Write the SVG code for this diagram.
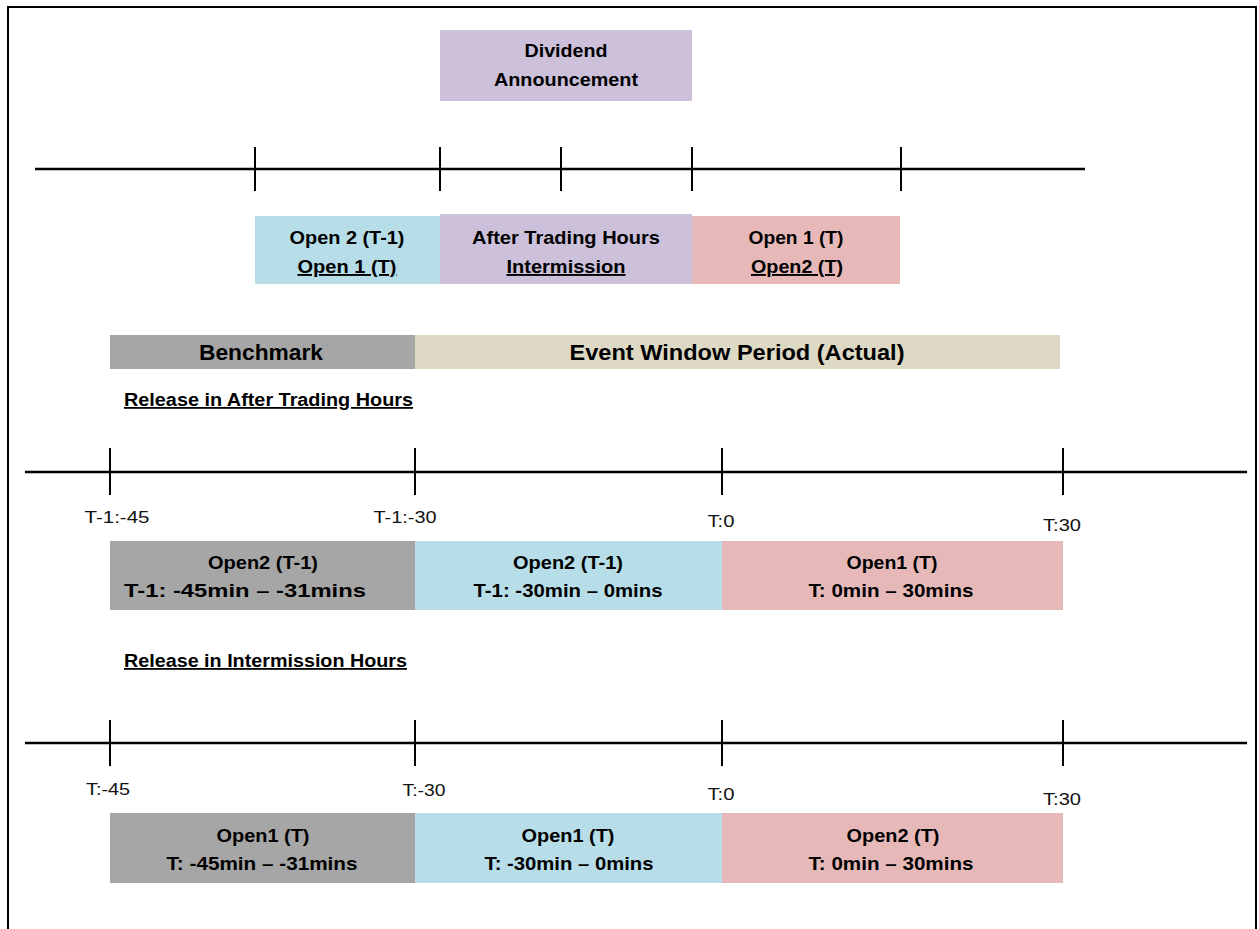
<svg xmlns="http://www.w3.org/2000/svg" width="1259" height="929" viewBox="0 0 1259 929">
<style>
text{font-family:"Liberation Sans",Arial,sans-serif;fill:#000;text-anchor:middle}
.b{font-weight:bold;font-size:19px}
.h{font-weight:bold;font-size:22px}
.r{font-weight:bold;font-size:18px;text-anchor:start;text-decoration:underline}
.t{font-size:16px;fill:#111}
.ax{stroke:#000;stroke-width:2.5;fill:none}
.tk{stroke:#000;stroke-width:2;fill:none}
.u{text-decoration:underline}
.lav{fill:#ccc0da}.blu{fill:#b7dde8}.pnk{fill:#e6b9b8}.gry{fill:#a6a6a6}.tan{fill:#ddd9c4}
</style>
<rect x="0" y="0" width="1259" height="929" fill="#fff"/>
<path d="M8 929 V7 H1256 V929" fill="none" stroke="#000" stroke-width="2"/>

<g id="dividend"><rect class="lav" x="440" y="30" width="252" height="71"/><text class="b" x="566" y="57" textLength="83" lengthAdjust="spacingAndGlyphs">Dividend</text><text class="b" x="566" y="86" textLength="144" lengthAdjust="spacingAndGlyphs">Announcement</text></g>

<g id="connectors">
<line class="ax" x1="35" y1="169" x2="1085" y2="169"/>
<path class="tk" d="M255 147V191M440 147V191M561 147V191M692 147V191M901 147V191"/>
<line class="ax" x1="25" y1="472" x2="1247" y2="472"/>
<path class="tk" d="M110 448V495M415 448V495M722 448V495M1063 448V495"/>
<line class="ax" x1="25" y1="743" x2="1247" y2="743"/>
<path class="tk" d="M110 720V766M415 720V766M722 720V766M1063 720V766"/>
</g>

<g id="open2-t1"><rect class="blu" x="255" y="216" width="185" height="68"/><text class="b" x="347" y="244" textLength="115" lengthAdjust="spacingAndGlyphs">Open 2 (T-1)</text><text class="b u" x="347" y="273" textLength="99" lengthAdjust="spacingAndGlyphs">Open 1 (T)</text></g>
<g id="after-trading"><rect class="lav" x="440" y="214" width="252" height="70"/><text class="b" x="566" y="244" textLength="188" lengthAdjust="spacingAndGlyphs">After Trading  Hours</text><text class="b u" x="566" y="273" textLength="119" lengthAdjust="spacingAndGlyphs">Intermission</text></g>
<g id="open1-t"><rect class="pnk" x="692" y="216" width="208" height="68"/><text class="b" x="796" y="244" textLength="95" lengthAdjust="spacingAndGlyphs">Open 1 (T)</text><text class="b u" x="797" y="273" textLength="92" lengthAdjust="spacingAndGlyphs">Open2 (T)</text></g>

<g id="benchmark"><rect class="gry" x="110" y="335" width="305" height="34"/><text class="h" x="261" y="360" textLength="124" lengthAdjust="spacingAndGlyphs">Benchmark</text></g>
<g id="event-window"><rect class="tan" x="415" y="335" width="645" height="34"/><text class="h" x="737" y="360" textLength="335" lengthAdjust="spacingAndGlyphs">Event Window Period (Actual)</text></g>

<g id="release-after"><text class="r" x="124" y="406" textLength="289" lengthAdjust="spacingAndGlyphs">Release in After Trading  Hours</text></g>
<g id="labels-1">
<text class="t" x="117" y="523" textLength="65" lengthAdjust="spacingAndGlyphs">T-1:-45</text>
<text class="t" x="405" y="523" textLength="63" lengthAdjust="spacingAndGlyphs">T-1:-30</text>
<text class="t" x="721" y="527" textLength="27" lengthAdjust="spacingAndGlyphs">T:0</text>
<text class="t" x="1062" y="531" textLength="38" lengthAdjust="spacingAndGlyphs">T:30</text>
</g>
<g id="a-bench"><rect class="gry" x="110" y="541" width="305" height="69"/><text class="b" x="263" y="569" textLength="110" lengthAdjust="spacingAndGlyphs">Open2 (T-1)</text><text class="b" x="245" y="597" textLength="242" lengthAdjust="spacingAndGlyphs">T-1: -45min – -31mins</text></g>
<g id="a-pre"><rect class="blu" x="415" y="541" width="307" height="69"/><text class="b" x="568" y="569" textLength="110" lengthAdjust="spacingAndGlyphs">Open2 (T-1)</text><text class="b" x="568" y="597" textLength="189" lengthAdjust="spacingAndGlyphs">T-1: -30min – 0mins</text></g>
<g id="a-post"><rect class="pnk" x="722" y="541" width="341" height="69"/><text class="b" x="892" y="569" textLength="91" lengthAdjust="spacingAndGlyphs">Open1 (T)</text><text class="b" x="891" y="597" textLength="165" lengthAdjust="spacingAndGlyphs">T: 0min – 30mins</text></g>

<g id="release-inter"><text class="r" x="124" y="667" textLength="283" lengthAdjust="spacingAndGlyphs">Release in Intermission Hours</text></g>
<g id="labels-2">
<text class="t" x="108" y="795" textLength="44" lengthAdjust="spacingAndGlyphs">T:-45</text>
<text class="t" x="424" y="796" textLength="43" lengthAdjust="spacingAndGlyphs">T:-30</text>
<text class="t" x="721" y="800" textLength="27" lengthAdjust="spacingAndGlyphs">T:0</text>
<text class="t" x="1062" y="805" textLength="38" lengthAdjust="spacingAndGlyphs">T:30</text>
</g>
<g id="b-bench"><rect class="gry" x="110" y="813" width="305" height="70"/><text class="b" x="263" y="842" textLength="93" lengthAdjust="spacingAndGlyphs">Open1 (T)</text><text class="b" x="262" y="870" textLength="191" lengthAdjust="spacingAndGlyphs">T:  -45min – -31mins</text></g>
<g id="b-pre"><rect class="blu" x="415" y="813" width="307" height="70"/><text class="b" x="568" y="842" textLength="93" lengthAdjust="spacingAndGlyphs">Open1 (T)</text><text class="b" x="569" y="870" textLength="169" lengthAdjust="spacingAndGlyphs">T:  -30min – 0mins</text></g>
<g id="b-post"><rect class="pnk" x="722" y="813" width="341" height="70"/><text class="b" x="893" y="842" textLength="93" lengthAdjust="spacingAndGlyphs">Open2 (T)</text><text class="b" x="891" y="870" textLength="165" lengthAdjust="spacingAndGlyphs">T:  0min – 30mins</text></g>
</svg>
